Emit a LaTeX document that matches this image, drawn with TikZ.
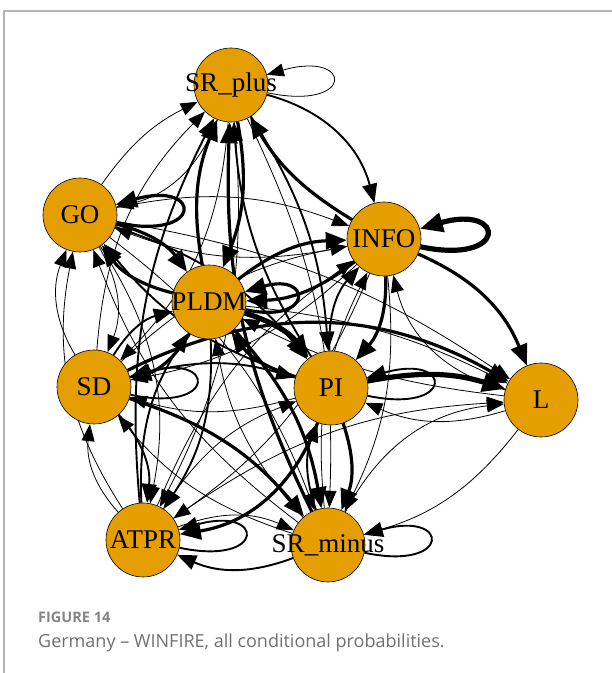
\documentclass[tikz,border=0pt]{standalone}
\usepackage{fontspec}
\setmainfont{Liberation Serif}
\newfontfamily\capfont{Open Sans}
\usetikzlibrary{arrows.meta}
\definecolor{nodeorange}{HTML}{E49E00}
\definecolor{framegray}{HTML}{B4B4B4}
\definecolor{capgray}{HTML}{707070}
\definecolor{headgray}{HTML}{858585}
\pgfdeclarelayer{edges}
\pgfsetlayers{edges,main}
\tikzset{
  vtx/.style={circle, draw=black, line width=0.6pt, fill=nodeorange,
    minimum size=74pt, inner sep=0pt,
    label={[font=\fontsize{27}{27}\selectfont, inner sep=0pt]center:#1}},
  ta/.style={-{Triangle[length=17pt,width=13pt]}, line width=0.8pt},
  tb/.style={-{Triangle[length=19pt,width=15pt]}, line width=1.9pt},
  tc/.style={-{Triangle[length=21pt,width=17pt]}, line width=3.2pt},
  td/.style={-{Triangle[length=23pt,width=19pt]}, line width=5.2pt},
  selfloop/.style={out=-12, in=16, distance=90pt},
}
\begin{document}
\begin{tikzpicture}[x=1pt,y=1pt]
\useasboundingbox (0,0) rectangle (612,673);
% frame of the figure panel
\draw[framegray, line width=1.2pt] (4,0) -- (4,662) -- (612,662);

% vertices (label drawn on top, circle size fixed)
\node[vtx=SR\_plus]   (SRp)  at (231,588) {};
\node[vtx=GO]         (GO)   at (80,458)  {};
\node[vtx=INFO]       (INFO) at (384,434) {};
\node[vtx=PLDM]       (PLDM) at (209,371) {};
\node[vtx=SD]         (SD)   at (94,286)  {};
\node[vtx=PI]         (PI)   at (331,285) {};
\node[vtx=L]          (L)    at (541,273) {};
\node[vtx=ATPR]       (ATPR) at (143,133) {};
\node[vtx=SR\_minus]  (SRm)  at (328,128) {};

\begin{pgfonlayer}{edges}
% directed edges: source / target / weight style / bend
\foreach \s/\t/\w/\b in {
  SRp/GO/ta/28, GO/SRp/ta/14,
  SRp/INFO/tb/30, INFO/SRp/tc/14,
  SRp/PLDM/tc/16, PLDM/SRp/tc/16,
  SRp/SD/ta/20, SD/SRp/ta/20,
  SRp/PI/tb/14, PI/SRp/tb/14,
  SRp/ATPR/ta/16, ATPR/SRp/tb/16,
  SRp/SRm/ta/14, SRm/SRp/tc/14,
  GO/INFO/ta/16, INFO/GO/ta/16,
  GO/PLDM/tc/20, PLDM/GO/tc/20,
  GO/SD/ta/26, SD/GO/ta/26,
  GO/PI/tb/16, PI/GO/tb/16,
  GO/ATPR/ta/22, ATPR/GO/ta/22,
  GO/SRm/ta/16, SRm/GO/ta/16,
  INFO/PLDM/tc/18, PLDM/INFO/tc/18,
  INFO/SD/ta/16, SD/INFO/ta/16,
  INFO/PI/tc/22, PI/INFO/tb/22,
  INFO/ATPR/ta/16, ATPR/INFO/ta/16,
  INFO/SRm/ta/16, SRm/INFO/ta/16,
  PLDM/SD/tc/22, SD/PLDM/tb/22,
  PLDM/PI/td/18, PI/PLDM/tc/18,
  PLDM/ATPR/tb/18, ATPR/PLDM/tb/18,
  PLDM/SRm/tc/16, SRm/PLDM/ta/16,
  SD/PI/tb/16, PI/SD/ta/16,
  SD/ATPR/tb/24, ATPR/SD/ta/24,
  SD/SRm/tc/16, SRm/SD/ta/16,
  PI/ATPR/tc/30, ATPR/PI/ta/18,
  PI/SRm/tc/20, SRm/PI/tb/20,
  ATPR/SRm/ta/22, SRm/ATPR/tb/22,
  INFO/L/tc/22, L/INFO/ta/30,
  PI/L/td/14, L/PI/ta/20,
  PLDM/L/ta/10, L/PLDM/ta/10,
  SD/L/tc/28, GO/L/ta/12,
  SRm/L/ta/28, L/SRm/ta/18,
  ATPR/L/ta/16}
  \draw[\w] (\s) to[bend left=\b] (\t);

% self-loops
\draw[ta] (SRp)  to[selfloop] (SRp);
\draw[tc] (GO)   to[selfloop] (GO);
\draw[td] (INFO) to[selfloop] (INFO);
\draw[tc] (PLDM) to[selfloop, distance=70pt] (PLDM);
\draw[tb] (SD)   to[selfloop] (SD);
\draw[tb] (PI)   to[selfloop] (PI);
\draw[tb] (ATPR) to[selfloop] (ATPR);
\draw[tb] (SRm)  to[selfloop] (SRm);
\end{pgfonlayer}

% caption
\node[anchor=base west, inner sep=0pt, text=headgray,
  font=\capfont\bfseries\fontsize{14.5}{14.5}\selectfont] (fighead) at (38,50) {FIGURE 14};
\node[anchor=base west, inner sep=0pt, text=capgray,
  font=\capfont\fontsize{18}{18}\selectfont] (figcap) at (38,25)
  {Germany – WINFIRE, all conditional probabilities.};
\end{tikzpicture}
\end{document}
